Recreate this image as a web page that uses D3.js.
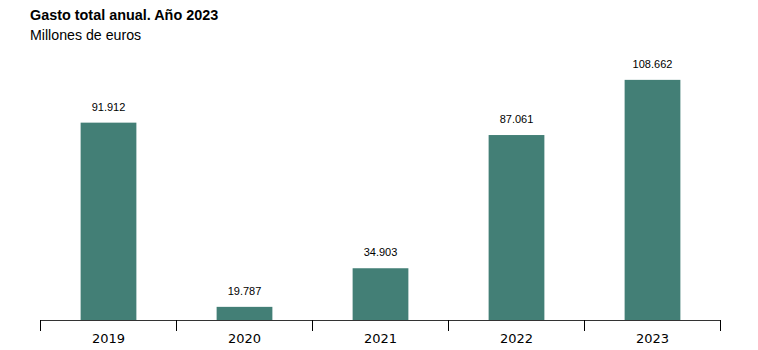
<!DOCTYPE html>
<html><head><meta charset="utf-8">
<script src="https://cdn.jsdelivr.net/npm/d3@7"></script>
<style>body{margin:0;background:#fff}</style>
</head><body>
<svg id="c" width="758" height="350"></svg>
<script>
const categories = ["2019","2020","2021","2022","2023"];
const values = [91912, 19787, 34903, 87061, 108662];
const valueLabels = ["91.912","19.787","34.903","87.061","108.662"];
const title = "Gasto total anual. Año 2023";
const subtitle = "Millones de euros";

const svg = d3.select("#c");
const x = d3.scaleBand().domain(categories).range([40.5, 720.5]).paddingInner(0.59).paddingOuter(0.295);
const y = d3.scaleLinear().domain([14640, 124270]).range([320, 40]);

svg.append("text").attr("x",30).attr("y",20).attr("font-family","Liberation Sans, Arial, sans-serif")
  .attr("font-size",14.4).attr("font-weight","bold").attr("fill","#000").text(title);
svg.append("text").attr("x",30).attr("y",40).attr("font-family","Liberation Sans, Arial, sans-serif")
  .attr("font-size",14.2).attr("fill","#000").text(subtitle);

svg.selectAll("rect.bar").data(values).join("rect").attr("class","bar")
  .attr("x",(d,i)=>x(categories[i])).attr("width",x.bandwidth())
  .attr("y",d=>y(d)).attr("height",d=>y(y.domain()[0])-y(d)).attr("fill","#437f76");

svg.selectAll("text.val").data(values).join("text").attr("class","val")
  .attr("x",(d,i)=>x(categories[i])+x.bandwidth()/2).attr("y",d=>y(d)-12)
  .attr("text-anchor","middle").attr("font-family","Liberation Sans, Arial, sans-serif")
  .attr("font-size",11).attr("fill","#000").text((d,i)=>valueLabels[i]);

// axis line and boundary ticks
const step = x.step();
const bounds = d3.range(categories.length+1).map(i => x.range()[0] + i*step);
const g = svg.append("g");
g.append("line").attr("x1",bounds[0]).attr("x2",bounds[bounds.length-1]).attr("y1",320.5).attr("y2",320.5)
  .attr("stroke","#333").attr("stroke-width",1);
g.selectAll("line.t").data(bounds).join("line").attr("class","t")
  .attr("x1",d=>d).attr("x2",d=>d).attr("y1",320).attr("y2",331).attr("stroke","#000").attr("stroke-width",1);
g.selectAll("text.cat").data(categories).join("text").attr("class","cat")
  .attr("x",d=>x(d)+x.bandwidth()/2).attr("y",343).attr("text-anchor","middle")
  .attr("font-family","DejaVu Sans, sans-serif").attr("font-size",13).attr("fill","#000").text(d=>d);
</script>
</body></html>
